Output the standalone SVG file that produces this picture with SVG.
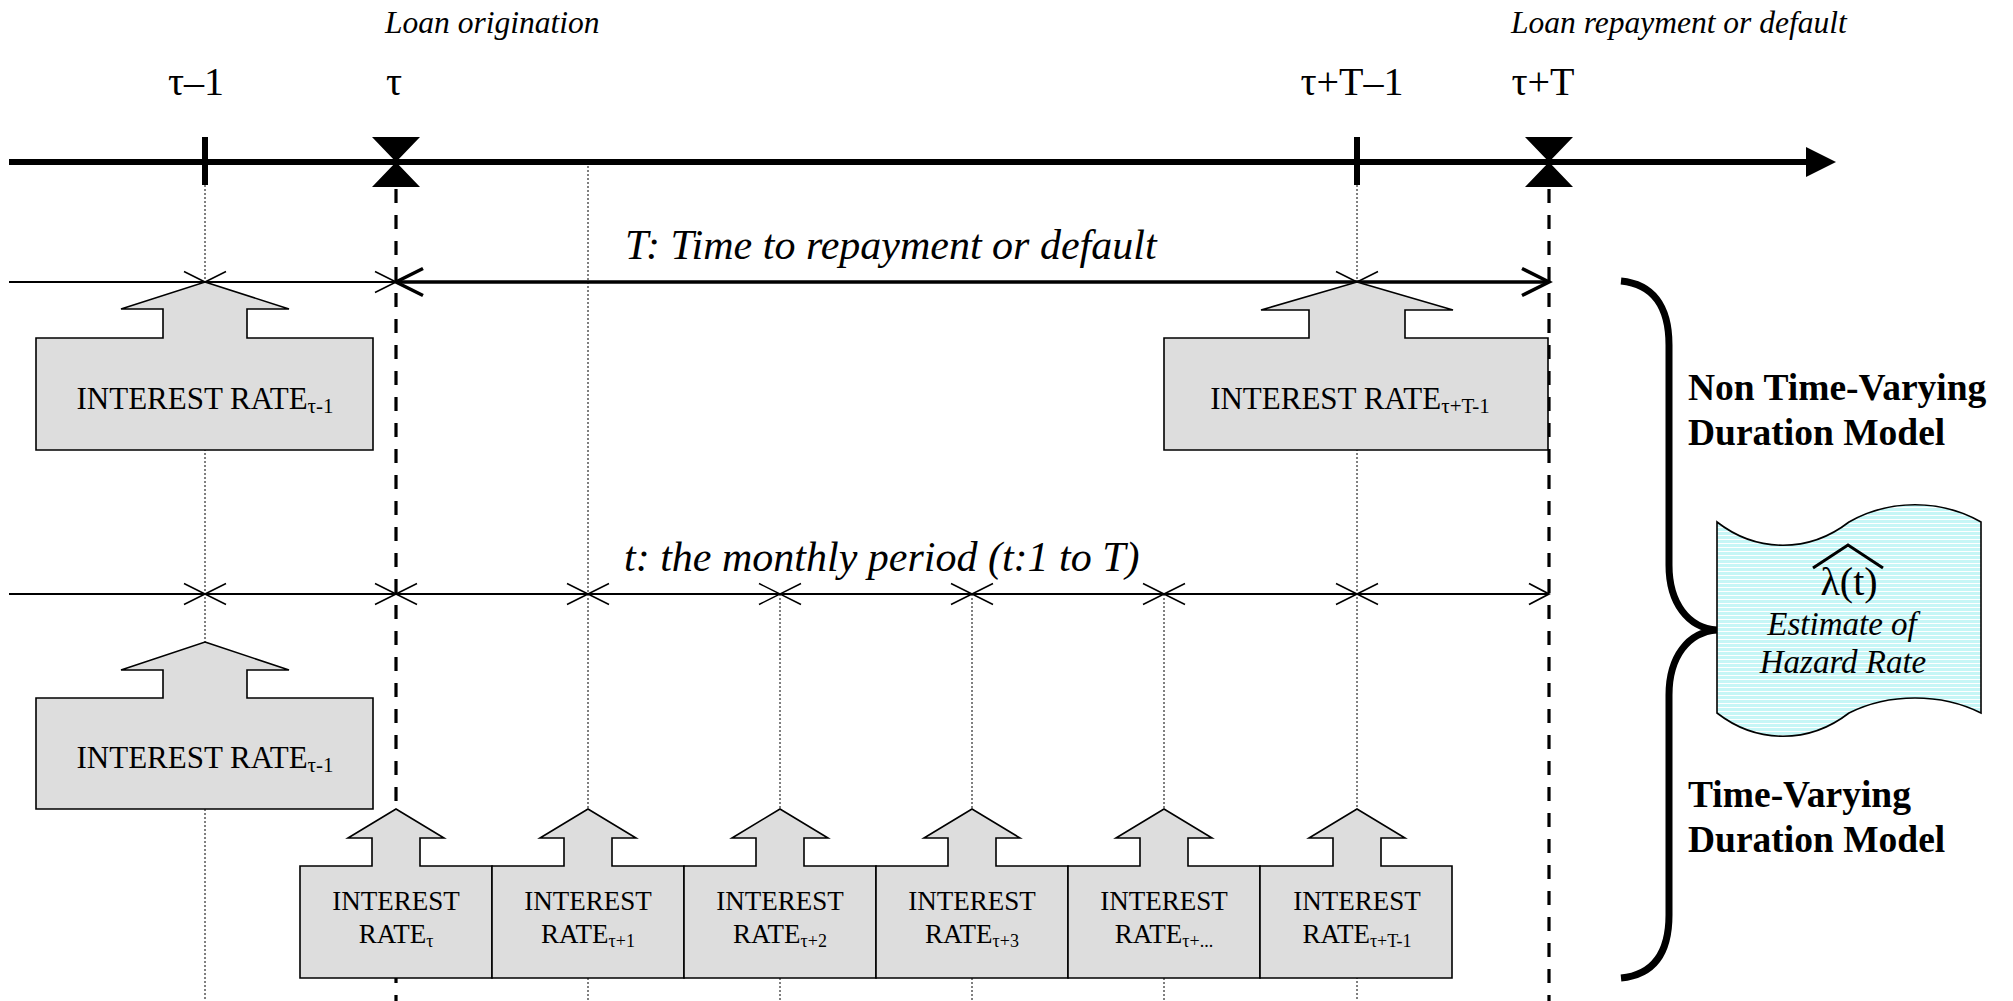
<svg xmlns="http://www.w3.org/2000/svg" width="2013" height="1001" viewBox="0 0 2013 1001">
<style>
.serif{font-family:"Liberation Serif","Times New Roman",serif;fill:#000}
.it{font-style:italic}
.bold{font-weight:bold}
.lbl{font-size:40px;text-anchor:middle}
.box{fill:#dddddd;stroke:#000;stroke-width:1.6}
.dot{stroke:#000;stroke-width:1;stroke-dasharray:2 2;fill:none}
.dash{stroke:#000;stroke-width:3.2;stroke-dasharray:14 12;fill:none}
.thin{stroke:#000;stroke-width:1.8;fill:none}
.thick{stroke:#000;stroke-width:3.5;fill:none}
.xm{stroke:#000;stroke-width:1.5;fill:none}
.bt{font-size:27px;text-anchor:middle}
.bt2{font-size:31px;text-anchor:middle}
</style>
<defs>
<pattern id="stripes" patternUnits="userSpaceOnUse" width="8" height="4">
<rect width="8" height="4" fill="#c6f6f6"/>
<rect y="3" width="8" height="1" fill="#ffffff"/>
</pattern>
<path id="xmark" d="M-21,-10.5 L21,10.5 M-21,10.5 L21,-10.5"/>
</defs>
<rect width="2013" height="1001" fill="#ffffff"/>

<g id="connectors">
<!-- dotted guide lines -->
<line class="dot" x1="205" y1="185" x2="205" y2="1001"/>
<line class="dot" x1="588" y1="162" x2="588" y2="1001"/>
<line class="dot" x1="780" y1="594" x2="780" y2="1001"/>
<line class="dot" x1="972" y1="594" x2="972" y2="1001"/>
<line class="dot" x1="1164" y1="594" x2="1164" y2="1001"/>
<line class="dot" x1="1357" y1="185" x2="1357" y2="1001"/>
<!-- dashed lines -->
<line class="dash" x1="396" y1="189" x2="396" y2="1001"/>
<line class="dash" x1="1549" y1="189" x2="1549" y2="1001"/>
<!-- main axis -->
<line x1="9" y1="162" x2="1810" y2="162" stroke="#000" stroke-width="6"/>
<polygon points="1836,162 1806,147 1806,177" fill="#000"/>
<rect x="202" y="137" width="6" height="48" fill="#000"/>
<rect x="1354" y="137" width="6" height="48" fill="#000"/>
<polygon points="372,137 420,137 396,162 420,187 372,187 396,162" fill="#000"/>
<polygon points="1525,137 1573,137 1549,162 1573,187 1525,187 1549,162" fill="#000"/>
<!-- row 1 axis -->
<line class="thin" x1="9" y1="282" x2="396" y2="282"/>
<line class="thick" x1="396" y1="282" x2="1549" y2="282"/>
<use href="#xmark" x="205" y="282" class="xm"/>
<use href="#xmark" x="396" y="282" class="xm"/>
<use href="#xmark" x="1357" y="282" class="xm"/>
<polyline class="thick" points="423,268.5 396,282 423,295.5"/>
<polyline class="thick" points="1522,268.5 1549,282 1522,295.5"/>
<!-- row 2 axis -->
<line class="thin" x1="9" y1="594" x2="1549" y2="594"/>
<use href="#xmark" x="205" y="594" class="xm"/>
<use href="#xmark" x="396" y="594" class="xm"/>
<use href="#xmark" x="588" y="594" class="xm"/>
<use href="#xmark" x="780" y="594" class="xm"/>
<use href="#xmark" x="972" y="594" class="xm"/>
<use href="#xmark" x="1164" y="594" class="xm"/>
<use href="#xmark" x="1357" y="594" class="xm"/>
<polyline class="thin" points="1529,583.5 1549,594 1529,604.5"/>
<!-- brace -->
<path d="M1621,281 C1652,284 1669,305 1669,345 L1669,565 C1669,603 1688,628 1717,630 C1688,632 1669,657 1669,695 L1669,915 C1669,955 1652,975 1621,978" fill="none" stroke="#000" stroke-width="7"/>
</g>

<g id="labels">
<text class="serif it" x="385" y="33" font-size="31.5">Loan origination</text>
<text class="serif it" x="1511" y="33" font-size="31.5">Loan repayment or default</text>
<text class="serif lbl" x="196" y="95">τ–1</text>
<text class="serif lbl" x="394" y="95">τ</text>
<text class="serif lbl" x="1352" y="95">τ+T–1</text>
<text class="serif lbl" x="1543" y="95">τ+T</text>
<text class="serif it" x="625" y="259" font-size="42">T: Time to repayment or default</text>
<text class="serif it" x="624" y="571" font-size="42">t: the monthly period (t:1 to T)</text>
<text class="serif bold" x="1688" y="400" font-size="37.5">Non Time-Varying</text>
<text class="serif bold" x="1688" y="445" font-size="37.5">Duration Model</text>
<text class="serif bold" x="1688" y="807" font-size="37.5">Time-Varying</text>
<text class="serif bold" x="1688" y="852" font-size="37.5">Duration Model</text>
</g>

<g id="node-ir-row1-left">
<polygon class="box" points="205,282 289,309 247,309 247,338 373,338 373,450 36,450 36,338 163,338 163,309 121,309"/>
<text class="serif bt2" x="205" y="409">INTEREST RATE<tspan font-size="21" dy="4">τ-1</tspan></text>
</g>
<g id="node-ir-row1-right">
<polygon class="box" points="1357,282 1453,310 1405,310 1405,338 1548,338 1548,450 1164,450 1164,338 1309,338 1309,310 1261,310"/>
<text class="serif bt2" x="1350" y="409">INTEREST RATE<tspan font-size="21" dy="4">τ+T-1</tspan></text>
</g>
<g id="node-ir-row2-left">
<polygon class="box" points="205,642 289,670 247,670 247,698 373,698 373,809 36,809 36,698 163,698 163,670 121,670"/>
<text class="serif bt2" x="205" y="768">INTEREST RATE<tspan font-size="21" dy="4">τ-1</tspan></text>
</g>

<g id="node-ir-t0">
<polygon class="box" points="396,809 444,838 420,838 420,866 492,866 492,978 300,978 300,866 372,866 372,838 348,838"/>
<text class="serif bt" x="396" y="910">INTEREST</text>
<text class="serif bt" x="396" y="943">RATE<tspan font-size="18" dy="4">τ</tspan></text>
</g>
<g id="node-ir-t1">
<polygon class="box" points="588,809 636,838 612,838 612,866 684,866 684,978 492,978 492,866 564,866 564,838 540,838"/>
<text class="serif bt" x="588" y="910">INTEREST</text>
<text class="serif bt" x="588" y="943">RATE<tspan font-size="18" dy="4">τ+1</tspan></text>
</g>
<g id="node-ir-t2">
<polygon class="box" points="780,809 828,838 804,838 804,866 876,866 876,978 684,978 684,866 756,866 756,838 732,838"/>
<text class="serif bt" x="780" y="910">INTEREST</text>
<text class="serif bt" x="780" y="943">RATE<tspan font-size="18" dy="4">τ+2</tspan></text>
</g>
<g id="node-ir-t3">
<polygon class="box" points="972,809 1020,838 996,838 996,866 1068,866 1068,978 876,978 876,866 948,866 948,838 924,838"/>
<text class="serif bt" x="972" y="910">INTEREST</text>
<text class="serif bt" x="972" y="943">RATE<tspan font-size="18" dy="4">τ+3</tspan></text>
</g>
<g id="node-ir-tdots">
<polygon class="box" points="1164,809 1212,838 1188,838 1188,866 1260,866 1260,978 1068,978 1068,866 1140,866 1140,838 1116,838"/>
<text class="serif bt" x="1164" y="910">INTEREST</text>
<text class="serif bt" x="1164" y="943">RATE<tspan font-size="18" dy="4">τ+...</tspan></text>
</g>
<g id="node-ir-tT1">
<polygon class="box" points="1357,809 1405,838 1381,838 1381,866 1452,866 1452,978 1260,978 1260,866 1333,866 1333,838 1309,838"/>
<text class="serif bt" x="1357" y="910">INTEREST</text>
<text class="serif bt" x="1357" y="943">RATE<tspan font-size="18" dy="4">τ+T-1</tspan></text>
</g>

<g id="node-hazard">
<path d="M1717,522 C1757,553 1809,553 1849,522 C1889,499 1941,499 1981,522 L1981,713 C1941,693 1889,693 1849,713 C1809,744 1757,744 1717,713 Z" fill="url(#stripes)" stroke="#000" stroke-width="1.6"/>
<polyline points="1813,568 1848,545 1883,568" fill="none" stroke="#000" stroke-width="3"/>
<text class="serif" x="1849" y="595" font-size="40" text-anchor="middle">λ(t)</text>
<text class="serif it" x="1842" y="635" font-size="33" text-anchor="middle">Estimate of</text>
<text class="serif it" x="1843" y="673" font-size="33" text-anchor="middle">Hazard Rate</text>
</g>
</svg>
